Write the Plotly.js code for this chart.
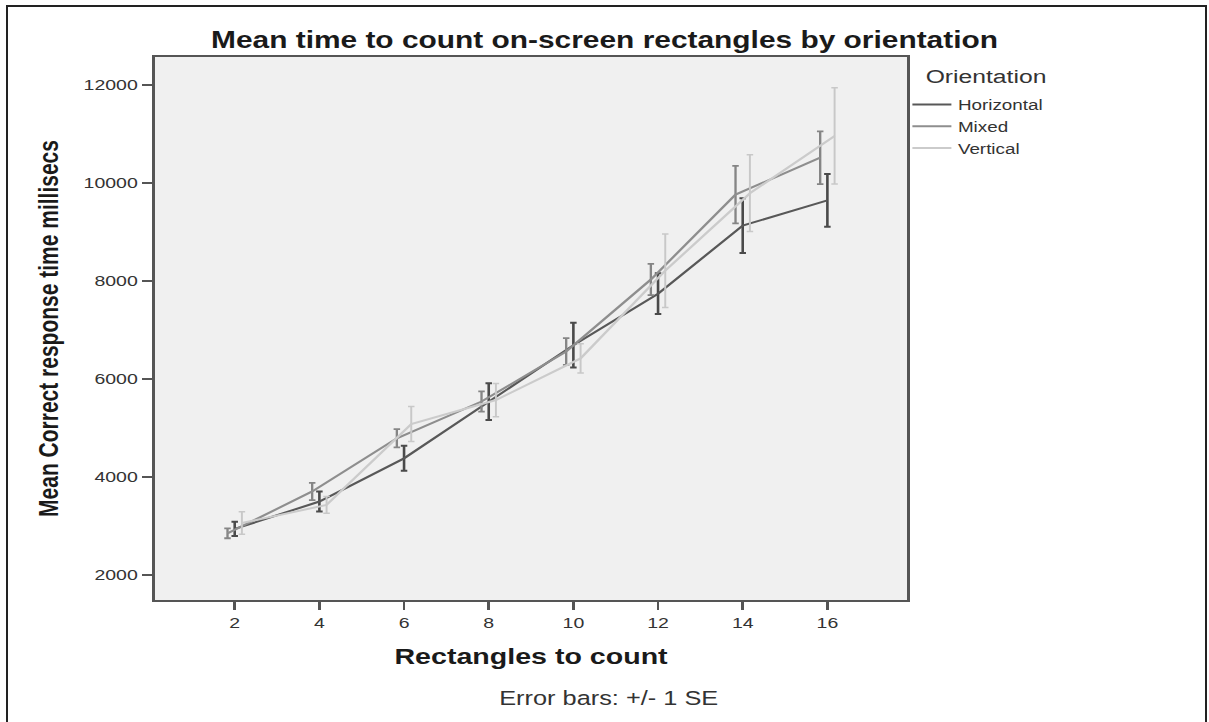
<!DOCTYPE html>
<html>
<head>
<meta charset="utf-8">
<script src="https://cdn.plot.ly/plotly-3.0.1.min.js"></script>
<style>
html,body{margin:0;padding:0;background:#fff;overflow:hidden;width:1209px;height:722px;}
#frame{position:absolute;left:6px;top:5px;width:1197px;height:800px;border:2px solid #222;pointer-events:none;}
#wrap{position:absolute;left:0;top:0;width:930px;height:722px;transform:scaleX(1.3);transform-origin:0 0;}
#chart{width:930px;height:722px;}
</style>
</head>
<body>
<div id="wrap"><div id="chart"></div></div>
<div id="frame"></div>
<script>
// Data
const rectangles = [2, 4, 6, 8, 10, 12, 14, 16];
const orientations = ['Horizontal', 'Mixed', 'Vertical'];
const horizontalMean = [2940, 3500, 4380, 5540, 6690, 7740, 9130, 9645];
const horizontalSE   = [145, 205, 255, 375, 455, 415, 560, 537];
const mixedMean      = [2850, 3705, 4790, 5540, 6560, 8030, 9762, 10515];
const mixedSE        = [100, 175, 185, 205, 272, 317, 585, 537];
const verticalMean   = [3060, 3430, 5080, 5570, 6420, 8210, 9790, 10960];
const verticalSE     = [230, 170, 357, 340, 300, 750, 783, 980];
const xTickVals = [2, 4, 6, 8, 10, 12, 14, 16];
const yTickVals = [2000, 4000, 6000, 8000, 10000, 12000];

// Styles (dodge offsets, colours)
const dodge = {Horizontal: 0, Mixed: -0.17, Vertical: 0.17};
const lineColor = {Horizontal: '#585858', Mixed: '#8e8e8e', Vertical: '#cbcbcb'};
const barColor = {Horizontal: '#4a4a4a', Mixed: '#858585', Vertical: '#c8c8c8'};
const barThick = {Horizontal: 2, Mixed: 1.8, Vertical: 1.5};

const means = {Horizontal: horizontalMean, Mixed: mixedMean, Vertical: verticalMean};
const ses = {Horizontal: horizontalSE, Mixed: mixedSE, Vertical: verticalSE};

const traces = orientations.map(o => ({
  type: 'scatter',
  mode: 'lines',
  name: o,
  x: rectangles.map(v => v + dodge[o]),
  y: means[o],
  line: {color: lineColor[o], width: 2},
  error_y: {type: 'data', array: ses[o], visible: true, color: barColor[o], thickness: barThick[o], width: 2.5},
  hoverinfo: 'x+y+name'
}));

const font = 'Liberation Sans, Arial, sans-serif';
const layout = {
  width: 930, height: 722,
  margin: {l: 119, r: 232, t: 57, b: 122},
  paper_bgcolor: 'rgba(0,0,0,0)',
  plot_bgcolor: '#f0f0f0',
  font: {family: font, color: '#333'},
  title: {
    text: 'Mean time to count on-screen rectangles by orientation',
    font: {family: font, size: 23, color: '#1a1a1a', weight: 'bold'},
    x: 0.5, xref: 'container', xanchor: 'center',
    y: 1 - 40/722, yref: 'container', yanchor: 'middle'
  },
  xaxis: {
    range: [0.11, 17.89],
    tickvals: xTickVals,
    ticktext: xTickVals.map(String),
    showgrid: false, zeroline: false,
    showline: true, mirror: true, linecolor: '#555', linewidth: 2,
    ticks: 'outside', ticklen: 8, tickwidth: 2, tickcolor: '#555',
    tickfont: {family: font, size: 15, color: '#333'},
    title: {text: 'Rectangles to count', standoff: 19,
            font: {family: font, size: 22, color: '#1a1a1a', weight: 'bold'}}
  },
  yaxis: {
    range: [1490, 12570],
    tickvals: yTickVals,
    ticktext: yTickVals.map(String),
    showgrid: false, zeroline: false,
    showline: true, mirror: true, linecolor: '#555', linewidth: 2,
    ticks: 'outside', ticklen: 8, tickwidth: 2, tickcolor: '#555',
    tickfont: {family: font, size: 15, color: '#333'},
    title: {text: 'Mean Correct response time millisecs', standoff: 13,
            font: {family: font, size: 21, color: '#1a1a1a', weight: 'bold'}}
  },
  legend: {
    x: 0.998, xanchor: 'left', y: 0.942, yanchor: 'top',
    bgcolor: 'rgba(0,0,0,0)',
    font: {family: font, size: 14.5, color: '#333'},
    itemwidth: 30,
    tracegroupgap: 0
  },
  showlegend: true,
  annotations: [{
    text: 'Orientation',
    xref: 'paper', yref: 'paper', x: 1.02, y: 0.9637,
    xanchor: 'left', yanchor: 'middle', showarrow: false,
    font: {family: font, size: 19, color: '#333'}
  }, {
    text: 'Error bars: +/- 1 SE',
    xref: 'paper', yref: 'paper', x: 0.603, y: -0.18,
    xanchor: 'center', yanchor: 'middle', showarrow: false,
    font: {family: font, size: 19.5, color: '#333'}
  }]
};

Plotly.newPlot('chart', traces, layout, {displayModeBar: false, staticPlot: true});
</script>
</body>
</html>
